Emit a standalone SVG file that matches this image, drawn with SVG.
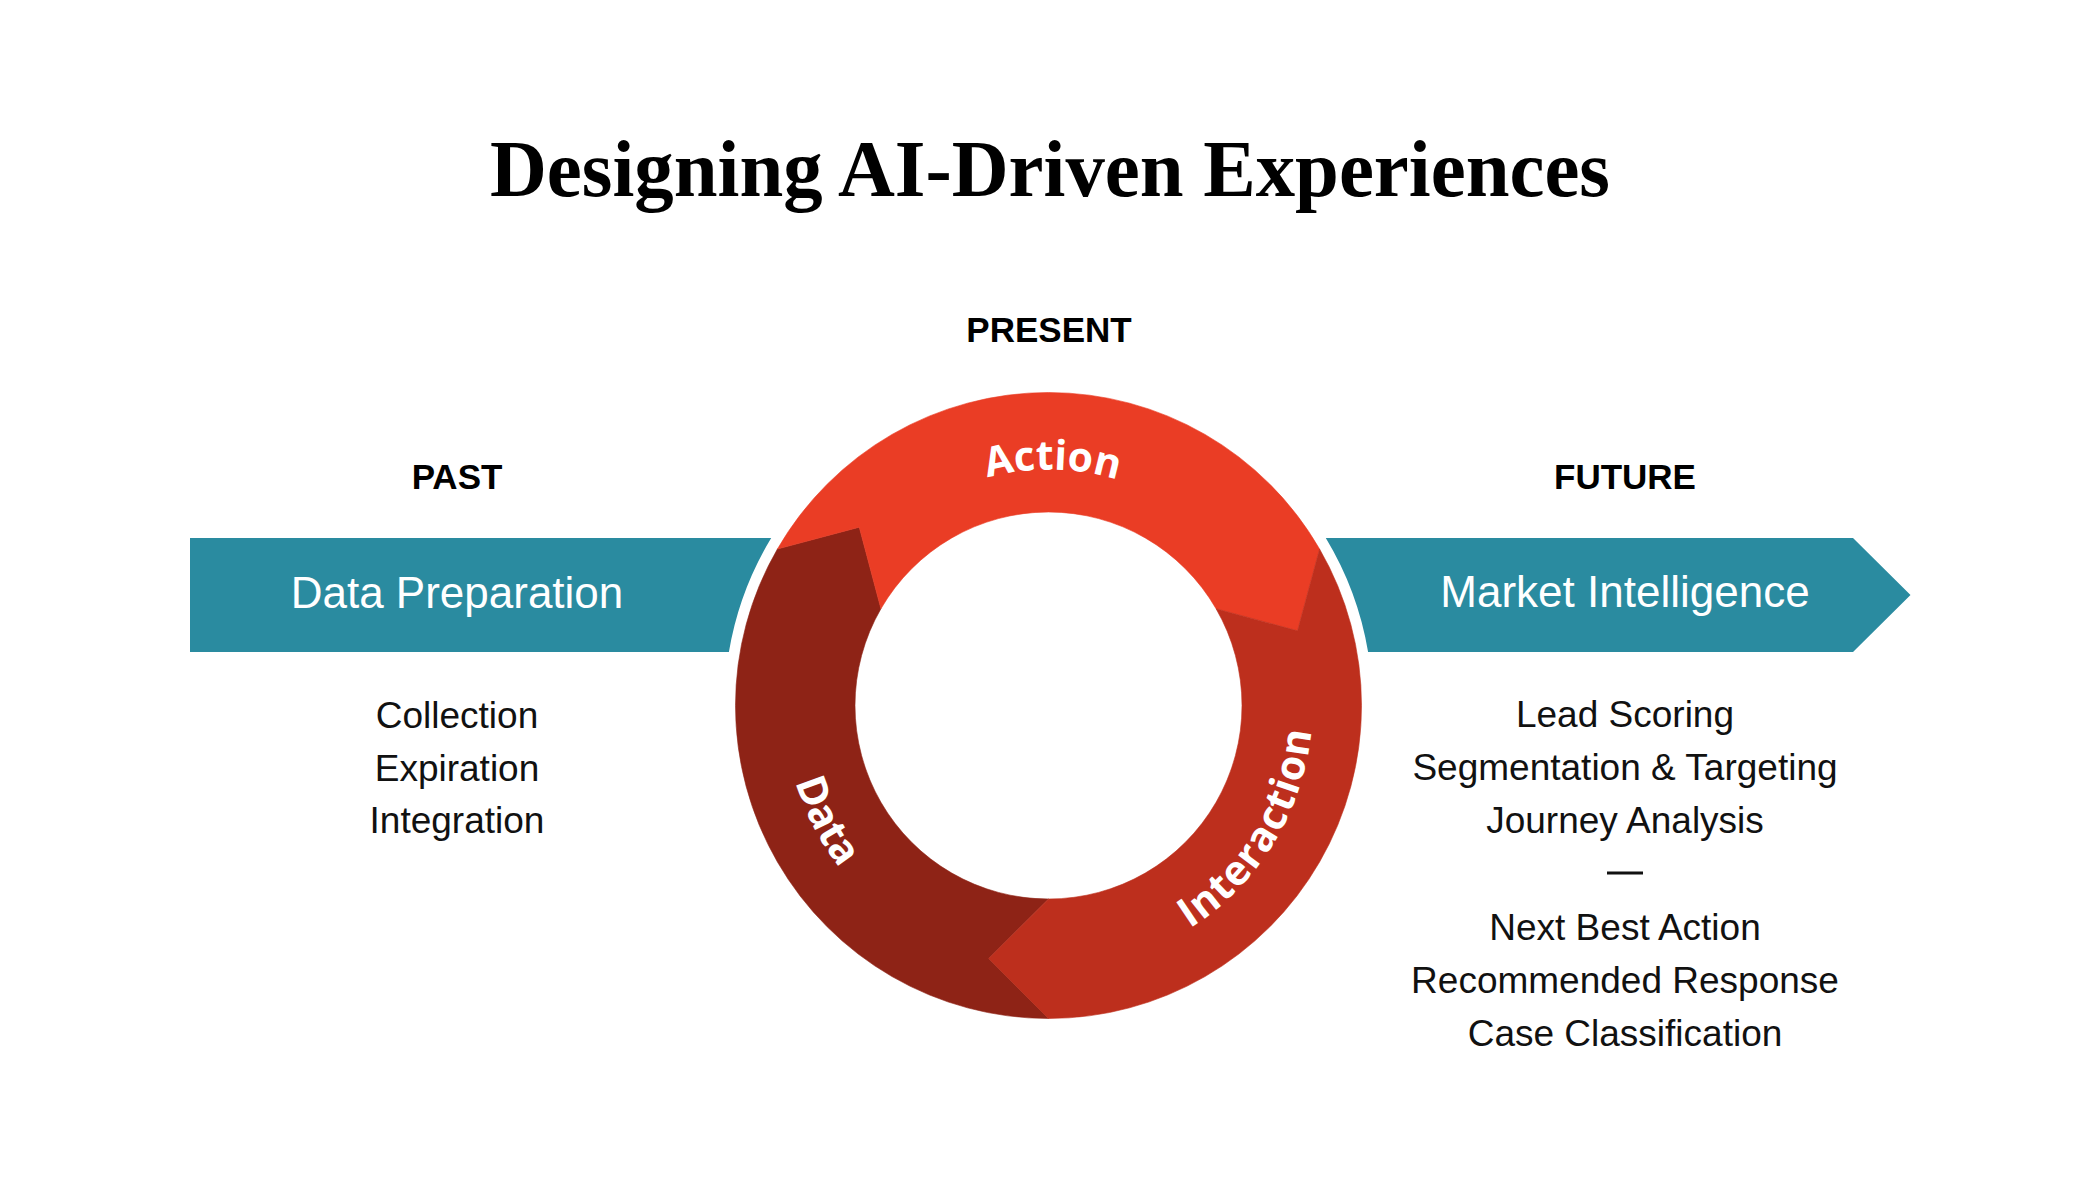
<svg xmlns="http://www.w3.org/2000/svg" width="2098" height="1180" viewBox="0 0 2098 1180">
  <style>
    .title { font-family: "Liberation Serif", "DejaVu Serif", serif; font-weight: bold; font-size: 80px; fill: #000; }
    .era { font-family: "Liberation Sans", Arial, sans-serif; font-weight: bold; font-size: 35px; fill: #000; }
    .band { font-family: "Liberation Sans", Arial, sans-serif; font-size: 44px; fill: #fff; }
    .item { font-family: "Liberation Sans", Arial, sans-serif; font-size: 37px; fill: #111; }
    .ring { font-family: "Open Sans", "Liberation Sans", sans-serif; font-weight: bold; font-size: 41px; fill: #fff; }
    .teal { fill: #2A8BA0; }
  </style>
  <defs>
    <path id="pAction" d="M870.39,550.67 A236,236 0 0 1 1231.91,556.98"/>
    <path id="pData" d="M799.6,616.2 A264,264 0 0 0 978.0,960.0"/>
    <path id="pInter" d="M1087.52,966.6 A264,264 0 0 0 1298.86,621.73"/>
  </defs>
  <rect width="2098" height="1180" fill="#fff"/>

  <text class="title" x="1050" y="196" text-anchor="middle" textLength="1120" lengthAdjust="spacingAndGlyphs">Designing AI-Driven Experiences</text>

  <g id="present">
    <text class="era" x="1049" y="342" text-anchor="middle">PRESENT</text>
  </g>

  <g id="past">
    <text class="era" x="457" y="489" text-anchor="middle">PAST</text>
    <path class="teal" d="M190,538 L771.2,538 A324,324 0 0 0 728.9,652 L190,652 Z"/>
    <text class="band" x="457" y="608" text-anchor="middle">Data Preparation</text>
    <text class="item" x="457" y="728" text-anchor="middle">Collection</text>
    <text class="item" x="457" y="781" text-anchor="middle">Expiration</text>
    <text class="item" x="457" y="833" text-anchor="middle">Integration</text>
  </g>

  <g id="future">
    <text class="era" x="1625" y="489" text-anchor="middle">FUTURE</text>
    <path class="teal" d="M1325.8,538 L1853,538 L1910.5,595 L1853,652 L1368.1,652 A324,324 0 0 0 1325.8,538 Z"/>
    <text class="band" x="1625" y="607" text-anchor="middle">Market Intelligence</text>
    <text class="item" x="1625" y="727" text-anchor="middle">Lead Scoring</text>
    <text class="item" x="1625" y="780" text-anchor="middle">Segmentation &amp; Targeting</text>
    <text class="item" x="1625" y="833" text-anchor="middle">Journey Analysis</text>
    <line x1="1607" y1="873" x2="1643" y2="873" stroke="#111" stroke-width="3"/>
    <text class="item" x="1625" y="940" text-anchor="middle">Next Best Action</text>
    <text class="item" x="1625" y="993" text-anchor="middle">Recommended Response</text>
    <text class="item" x="1625" y="1046" text-anchor="middle">Case Classification</text>
  </g>

  <g id="cycle">
    <g id="data">
      <path fill="#8E2316" stroke="#8E2316" stroke-width="0.6" d="M1048.5,1018.5 A313,313 0 0 1 777.43,549 L859.28,527.19 L880.92,608.75 A193.5,193.5 0 0 0 1048.5,899 L988.69,958.53 Z"/>
      <text class="ring"><textPath href="#pData" startOffset="50%" text-anchor="middle">Data</textPath></text>
    </g>
    <g id="action">
      <path fill="#EA3D25" stroke="#EA3D25" stroke-width="0.6" d="M777.43,549 A313,313 0 0 1 1319.57,549 L1297.53,630.79 L1216.08,608.75 A193.5,193.5 0 0 0 880.92,608.75 L859.28,527.19 Z"/>
      <text class="ring"><textPath href="#pAction" startOffset="50%" text-anchor="middle">Action</textPath></text>
    </g>
    <g id="interaction">
      <path fill="#BD2F1D" stroke="#BD2F1D" stroke-width="0.6" d="M1319.57,549 A313,313 0 0 1 1048.5,1018.5 L988.69,958.53 L1048.5,899 A193.5,193.5 0 0 0 1216.08,608.75 L1297.53,630.79 Z"/>
      <text class="ring" letter-spacing="1"><textPath href="#pInter" startOffset="50%" text-anchor="middle">Interaction</textPath></text>
    </g>
  </g>
</svg>
